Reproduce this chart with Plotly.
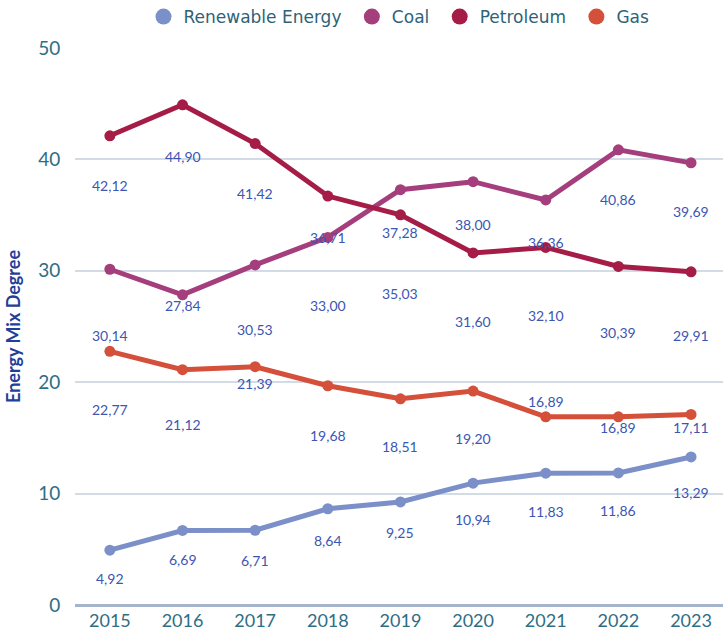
import plotly.graph_objects as go

years = [2015, 2016, 2017, 2018, 2019, 2020, 2021, 2022, 2023]
renewable = [4.92, 6.69, 6.71, 8.64, 9.25, 10.94, 11.83, 11.86, 13.29]
coal = [30.14, 27.84, 30.53, 33.00, 37.28, 38.00, 36.36, 40.86, 39.69]
petroleum = [42.12, 44.90, 41.42, 36.71, 35.03, 31.60, 32.10, 30.39, 29.91]
gas = [22.77, 21.12, 21.39, 19.68, 18.51, 19.20, 16.89, 16.89, 17.11]
y_ticks = [0, 10, 20, 30, 40, 50]

# label vertical offsets (pixels below the point)
off_renewable = [28, 29, 30, 32, 31, 36, 38, 38, 36]
off_coal = [66, 11, 65, 68, 43, 43, 43, 50, 49]
off_petroleum = [50, 52, 50, 41, 79, 69, 68, 66, 64]
off_gas = [58, 55, 17, 50, 48, 47, -15, 11, 13]

series = [
    ("Renewable Energy", renewable, "#7b8fc8", off_renewable),
    ("Coal", coal, "#a43e7c", off_coal),
    ("Petroleum", petroleum, "#a51d47", off_petroleum),
    ("Gas", gas, "#d5503a", off_gas),
]

FONT = "Lato"
fig = go.Figure()
annotations = []
for name, vals, color, offs in series:
    fig.add_trace(go.Scatter(
        x=years, y=vals, name=name, mode="lines+markers",
        line=dict(color=color, width=5),
        marker=dict(color=color, size=11),
        showlegend=False,
    ))
    for x, v, o in zip(years, vals, offs):
        annotations.append(dict(
            x=x, y=v, text=f"{v:.2f}".replace(".", ","), showarrow=False,
            yshift=-o, xref="x", yref="y",
            font=dict(family=FONT, size=14, color="#3b56b3"),
        ))

# legend entries: circles only
for i, (name, vals, color, offs) in enumerate(series):
    pad = "\u00a0" if i < len(series) - 1 else ""
    fig.add_trace(go.Scatter(
        x=[None], y=[None], name=name + pad, mode="markers",
        marker=dict(color=color, size=17), showlegend=True,
    ))

fig.update_layout(
    width=723, height=630,
    template="none",
    paper_bgcolor="white", plot_bgcolor="white",
    margin=dict(l=75, r=0, t=48, b=25, autoexpand=False),
    font=dict(family=FONT),
    legend=dict(orientation="h", x=0.5, xanchor="center",
                yref="container", y=1 - 17 / 630, yanchor="middle",
                font=dict(family="DejaVu Sans", size=17, color="#2e6377"),
                itemsizing="trace", traceorder="normal", itemwidth=30),
    annotations=annotations,
    xaxis=dict(
        range=[2014.52, 2023.44], tickvals=years, ticktext=[str(y) for y in years],
        showgrid=False, zeroline=False, showline=False, automargin=False,
        tickfont=dict(family=FONT, size=18, color="#2e6e85"),
        ticks="", ticklabelstandoff=3,
    ),
    yaxis=dict(
        range=[0, 50], tickvals=y_ticks, automargin=False,
        showgrid=True, gridcolor="#d3dbe6", gridwidth=1.5,
        zeroline=True, zerolinecolor="#a5b4ca", zerolinewidth=3,
        showline=False, ticks="outside", ticklen=10, tickcolor="rgba(0,0,0,0)",
        tickfont=dict(family=FONT, size=19, color="#2e6e85"),
        title=dict(text="<b>Energy Mix Degree</b>", standoff=12,
                   font=dict(family=FONT, size=18, color="#1f3f99")),
    ),
)
fig.write_html("out.html", config={"displayModeBar": False},
               post_script="document.body.style.margin='0';")
